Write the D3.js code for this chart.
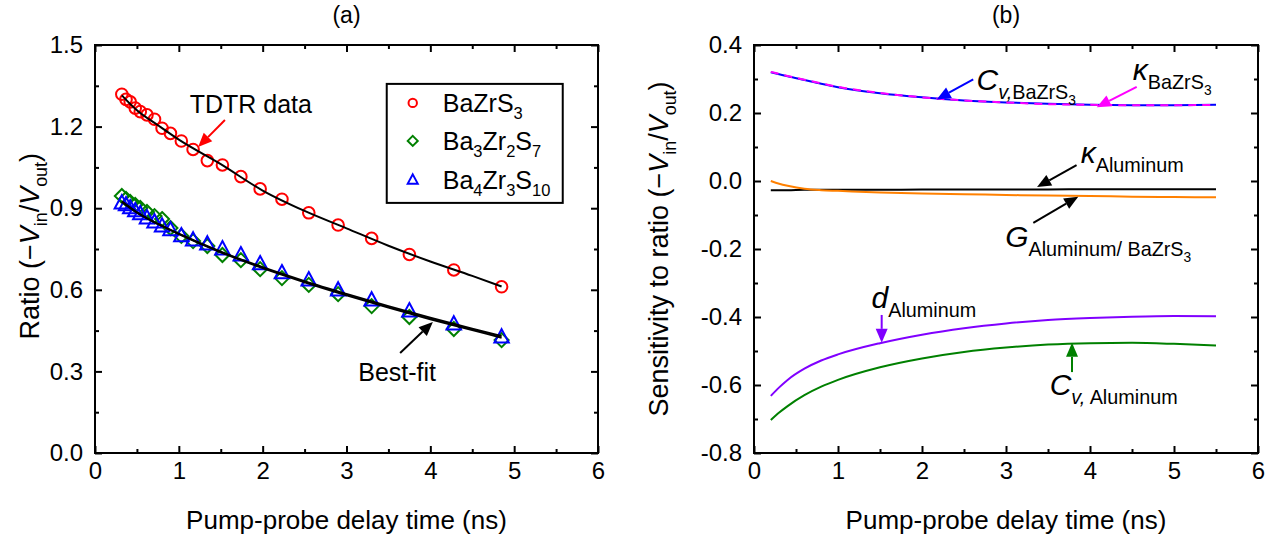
<!DOCTYPE html>
<html>
<head>
<meta charset="utf-8">
<script src="https://cdn.jsdelivr.net/npm/d3@7"></script>
<style>
  body { margin: 0; background: #fff; }
  svg text { font-family: "Liberation Sans", Arial, Helvetica, sans-serif; }
</style>
</head>
<body>
<svg id="chart" width="1283" height="540"></svg>
<script>
// ---------- (a) TDTR ratio data ----------
const delayTimes = [0.32, 0.37, 0.42, 0.48, 0.54, 0.62, 0.71, 0.80, 0.90, 1.03, 1.17,
                    1.34, 1.52, 1.74, 1.97, 2.23, 2.55, 2.90, 3.30, 3.75, 4.28, 4.85];
const ratioBaZrS3 = [1.319, 1.300, 1.291, 1.268, 1.255, 1.243, 1.227, 1.194, 1.175, 1.147, 1.116,
                     1.075, 1.059, 1.016, 0.971, 0.933, 0.883, 0.838, 0.789, 0.730, 0.673, 0.611];
const ratioBa3Zr2S7 = [0.945, 0.934, 0.923, 0.912, 0.901, 0.886, 0.871, 0.860, 0.827, 0.798, 0.779,
                       0.761, 0.728, 0.709, 0.676, 0.643, 0.618, 0.584, 0.540, 0.500, 0.456, 0.415];
const ratioBa4Zr3S10 = [0.919, 0.912, 0.901, 0.890, 0.879, 0.864, 0.849, 0.834, 0.820, 0.798, 0.783,
                        0.768, 0.750, 0.728, 0.695, 0.662, 0.636, 0.599, 0.562, 0.522, 0.474, 0.426];

// best-fit model curves
const fitTimes = [0.32, 0.5, 0.75, 1.0, 1.5, 2.0, 2.5, 3.0, 3.5, 4.0, 4.5, 4.85];
const fitBaZrS3 = [1.315, 1.260, 1.205, 1.152, 1.062, 0.965, 0.890, 0.826, 0.762, 0.704, 0.651, 0.612];
const fitBa3Zr2S7 = [0.925, 0.885, 0.842, 0.805, 0.738, 0.680, 0.628, 0.580, 0.535, 0.492, 0.452, 0.424];
const fitBa4Zr3S10 = [0.923, 0.884, 0.842, 0.806, 0.740, 0.683, 0.632, 0.585, 0.540, 0.497, 0.457, 0.430];

// ---------- (b) sensitivity curves ----------
const sensTimes = [0.2, 0.3, 0.4, 0.6, 0.8, 1.0, 1.5, 2.0, 2.5, 3.0, 3.5, 4.0, 4.5, 5.0, 5.5];
const sensCvBaZrS3 = [0.320, 0.314, 0.308, 0.297, 0.286, 0.276, 0.258, 0.246, 0.237, 0.231, 0.227, 0.224, 0.223, 0.223, 0.224];
const sensKappaBaZrS3 = [0.321, 0.315, 0.309, 0.298, 0.287, 0.277, 0.259, 0.246, 0.237, 0.231, 0.226, 0.224, 0.223, 0.223, 0.224];
const sensKappaAl = [-0.027, -0.027, -0.027, -0.026, -0.026, -0.026, -0.026, -0.025, -0.025, -0.025, -0.025, -0.024, -0.024, -0.024, -0.024];
const sensGAlBaZrS3 = [0.000, -0.008, -0.014, -0.023, -0.027, -0.029, -0.034, -0.037, -0.039, -0.041, -0.043, -0.044, -0.046, -0.047, -0.048];
const sensDAl = [-0.632, -0.607, -0.585, -0.552, -0.528, -0.510, -0.477, -0.452, -0.433, -0.419, -0.409, -0.403, -0.399, -0.397, -0.398];
const sensCvAl = [-0.703, -0.681, -0.662, -0.630, -0.605, -0.585, -0.548, -0.522, -0.503, -0.490, -0.481, -0.477, -0.476, -0.479, -0.484];

// ---------- ticks ----------
const xTicks = [0, 1, 2, 3, 4, 5, 6];
const xMinorTicks = [0.5, 1.5, 2.5, 3.5, 4.5, 5.5];
const ratioTicks = [0, 0.3, 0.6, 0.9, 1.2, 1.5];
const ratioMinorTicks = [0.15, 0.45, 0.75, 1.05, 1.35];
const sensTicks = [-0.8, -0.6, -0.4, -0.2, 0, 0.2, 0.4];
const sensMinorTicks = [-0.7, -0.5, -0.3, -0.1, 0.1, 0.3];

const svg = d3.select("#chart");
const TICK_FS = 24, TITLE_FS = 26, YTITLE_FS = 27, NOTE_FS = 25;

const xa = d3.scaleLinear().domain([0, 6]).range([95, 598]);
const ya = d3.scaleLinear().domain([0, 1.5]).range([453, 45]);
const xb = d3.scaleLinear().domain([0, 6]).range([754, 1258]);
const yb = d3.scaleLinear().domain([-0.8, 0.4]).range([453, 45]);

// one decimal, plain hyphen for negatives
const fmt1 = v => d3.format(".1f")(v).replace("\u2212", "-");

// Rich text with sub/sub-sub scripts built from tspans
function rich(parent, x, y, parts, size, opts = {}) {
  const t = parent.append("text")
    .attr("x", x).attr("y", y)
    .attr("font-size", size)
    .attr("text-anchor", opts.anchor || "start")
    .attr("fill", opts.fill || "#000");
  if (opts.rotate) t.attr("transform", `rotate(${opts.rotate},${x},${y})`);
  let off = 0;
  parts.forEach(p => {
    const level = p.lvl || 0;
    const shift = level === 0 ? 0 : (level === 1 ? 0.3 * size : 0.5 * size);
    const fs = level === 0 ? size : (level === 1 ? size * 0.66 : size * 0.46);
    const ts = t.append("tspan").text(p.t).attr("font-size", fs).attr("dy", shift - off);
    if (p.it) ts.attr("font-style", "italic");
    off = shift;
  });
  return t;
}

function arrow(parent, x1, y1, x2, y2, color) {
  const ang = Math.atan2(y2 - y1, x2 - x1);
  const L = 14, W = 6;
  const bx = x2 - L * Math.cos(ang), by = y2 - L * Math.sin(ang);
  parent.append("line")
    .attr("x1", x1).attr("y1", y1).attr("x2", bx).attr("y2", by)
    .attr("stroke", color).attr("stroke-width", 2);
  const px = -Math.sin(ang) * W, py = Math.cos(ang) * W;
  parent.append("path")
    .attr("d", `M${x2},${y2}L${bx + px},${by + py}L${bx - px},${by - py}Z`)
    .attr("fill", color);
}

function frameAndAxes(g, x, y, yTicks, yMinor) {
  const [x0, x1] = x.range(), [y0, y1] = y.range();
  const major = 7, minor = 4;
  g.append("g").attr("transform", `translate(0,${y0})`)
    .call(d3.axisBottom(x).tickValues(xTicks).tickSizeInner(-major).tickSizeOuter(0).tickPadding(9).tickFormat(d3.format("d")));
  g.append("g").attr("transform", `translate(0,${y0})`)
    .call(d3.axisBottom(x).tickValues(xMinorTicks).tickSizeInner(-minor).tickSizeOuter(0).tickFormat(""));
  g.append("g").attr("transform", `translate(0,${y1})`)
    .call(d3.axisTop(x).tickValues(xTicks).tickSizeInner(-major).tickSizeOuter(0).tickFormat(""));
  g.append("g").attr("transform", `translate(0,${y1})`)
    .call(d3.axisTop(x).tickValues(xMinorTicks).tickSizeInner(-minor).tickSizeOuter(0).tickFormat(""));
  g.append("g").attr("transform", `translate(${x0},0)`)
    .call(d3.axisLeft(y).tickValues(yTicks).tickSizeInner(-major).tickSizeOuter(0).tickPadding(12).tickFormat(fmt1));
  g.append("g").attr("transform", `translate(${x0},0)`)
    .call(d3.axisLeft(y).tickValues(yMinor).tickSizeInner(-minor).tickSizeOuter(0).tickFormat(""));
  g.append("g").attr("transform", `translate(${x1},0)`)
    .call(d3.axisRight(y).tickValues(yTicks).tickSizeInner(-major).tickSizeOuter(0).tickFormat(""));
  g.append("g").attr("transform", `translate(${x1},0)`)
    .call(d3.axisRight(y).tickValues(yMinor).tickSizeInner(-minor).tickSizeOuter(0).tickFormat(""));
  g.selectAll(".domain").remove();
  g.selectAll(".tick line").attr("stroke", "#000").attr("stroke-width", 2);
  g.selectAll(".tick text").attr("font-size", TICK_FS).attr("fill", "#000")
    .style("font-family", '"Liberation Sans", Arial, sans-serif');
  g.append("rect")
    .attr("x", x0).attr("y", y1).attr("width", x1 - x0).attr("height", y0 - y1)
    .attr("fill", "none").attr("stroke", "#000").attr("stroke-width", 2);
}

// ================= Panel (a) =================
const ga = svg.append("g");
const lineA = d3.line().curve(d3.curveMonotoneX).x(d => xa(d[0])).y(d => ya(d[1]));

const symDiamond = (s) => `M0,${-s}L${s},0L0,${s}L${-s},0Z`;
const symTriangle = (s) => `M0,${-s * 1.1}L${s},${s * 0.75}L${-s},${s * 0.75}Z`;

ga.append("g").selectAll("path").data(d3.zip(delayTimes, ratioBa3Zr2S7)).join("path")
  .attr("transform", d => `translate(${xa(d[0])},${ya(d[1])})`)
  .attr("d", symDiamond(7)).attr("fill", "none").attr("stroke", "#008000").attr("stroke-width", 2);
ga.append("g").selectAll("path").data(d3.zip(delayTimes, ratioBa4Zr3S10)).join("path")
  .attr("transform", d => `translate(${xa(d[0])},${ya(d[1])})`)
  .attr("d", symTriangle(7.2)).attr("fill", "none").attr("stroke", "#0000ff").attr("stroke-width", 2);
ga.append("g").selectAll("circle").data(d3.zip(delayTimes, ratioBaZrS3)).join("circle")
  .attr("cx", d => xa(d[0])).attr("cy", d => ya(d[1])).attr("r", 5.8)
  .attr("fill", "none").attr("stroke", "#ff0000").attr("stroke-width", 2);

[fitBaZrS3, fitBa3Zr2S7, fitBa4Zr3S10].forEach(f => {
  ga.append("path").datum(d3.zip(fitTimes, f)).attr("d", lineA)
    .attr("fill", "none").attr("stroke", "#000").attr("stroke-width", 2);
});

frameAndAxes(ga, xa, ya, ratioTicks, ratioMinorTicks);

// annotations
ga.append("text").attr("x", xa(1.13)).attr("y", ya(1.25)).attr("font-size", NOTE_FS).text("TDTR data");
arrow(ga, xa(1.55), ya(1.224), xa(1.23), ya(1.125), "#ff0000");
ga.append("text").attr("x", xa(3.14)).attr("y", ya(0.265)).attr("font-size", NOTE_FS).text("Best-fit");
arrow(ga, xa(3.64), ya(0.368), xa(4.03), ya(0.482), "#000");

// legend
const lg = ga.append("g").attr("transform", `translate(${xa(3.48)},${ya(1.357)})`);
lg.append("rect").attr("width", 176).attr("height", 119).attr("fill", "#fff")
  .attr("stroke", "#000").attr("stroke-width", 2);
lg.append("circle").attr("cx", 26).attr("cy", 19).attr("r", 4.2)
  .attr("fill", "none").attr("stroke", "#ff0000").attr("stroke-width", 2);
lg.append("path").attr("transform", "translate(26,57)").attr("d", symDiamond(5))
  .attr("fill", "none").attr("stroke", "#008000").attr("stroke-width", 2);
lg.append("path").attr("transform", "translate(26,96)").attr("d", symTriangle(5))
  .attr("fill", "none").attr("stroke", "#0000ff").attr("stroke-width", 2);
rich(lg, 56, 28, [{ t: "BaZrS" }, { t: "3", lvl: 1 }], NOTE_FS);
rich(lg, 56, 66, [{ t: "Ba" }, { t: "3", lvl: 1 }, { t: "Zr" }, { t: "2", lvl: 1 }, { t: "S" }, { t: "7", lvl: 1 }], NOTE_FS);
rich(lg, 56, 105, [{ t: "Ba" }, { t: "4", lvl: 1 }, { t: "Zr" }, { t: "3", lvl: 1 }, { t: "S" }, { t: "10", lvl: 1 }], NOTE_FS);

// titles
ga.append("text").attr("x", xa(3)).attr("y", 23).attr("text-anchor", "middle").attr("font-size", 23).text("(a)");
ga.append("text").attr("x", xa(3)).attr("y", 529).attr("text-anchor", "middle").attr("font-size", TITLE_FS)
  .text("Pump-probe delay time (ns)");
rich(ga, 39, ya(0.76), [{ t: "Ratio (\u2212" }, { t: "V", it: true }, { t: "in", lvl: 1 }, { t: "/" }, { t: "V", it: true }, { t: "out", lvl: 1 }, { t: ")" }],
  YTITLE_FS, { anchor: "middle", rotate: -90 });

// ================= Panel (b) =================
const gb = svg.append("g");
const lineB = d3.line().curve(d3.curveMonotoneX).x(d => xb(d[0])).y(d => yb(d[1]));
const drawSens = (vals, color, dash) => {
  const p = gb.append("path").datum(d3.zip(sensTimes, vals)).attr("d", lineB)
    .attr("fill", "none").attr("stroke", color).attr("stroke-width", 2);
  if (dash) p.attr("stroke-dasharray", dash);
};
drawSens(sensKappaAl, "#000");
drawSens(sensGAlBaZrS3, "#ff8000");
drawSens(sensDAl, "#8000ff");
drawSens(sensCvAl, "#008000");
drawSens(sensCvBaZrS3, "#0000ff");
drawSens(sensKappaBaZrS3, "#ff00ff", "8,6");

frameAndAxes(gb, xb, yb, sensTicks, sensMinorTicks);

const BIG = 30;
// C_v,BaZrS3
rich(gb, xb(2.65), yb(0.268), [{ t: "C", it: true }, { t: "v,", lvl: 1, it: true }, { t: "BaZrS", lvl: 1 }, { t: "3", lvl: 2 }], BIG);
arrow(gb, xb(2.61), yb(0.299), xb(2.175), yb(0.240), "#0000ff");
// kappa BaZrS3
rich(gb, xb(4.51), yb(0.297), [{ t: "\u03ba", it: true }, { t: "BaZrS", lvl: 1 }, { t: "3", lvl: 2 }], BIG);
arrow(gb, xb(4.556), yb(0.277), xb(4.08), yb(0.217), "#ff00ff");
// kappa Aluminum
rich(gb, xb(3.89), yb(0.053), [{ t: "\u03ba", it: true }, { t: "Aluminum", lvl: 1 }], BIG);
arrow(gb, xb(3.84), yb(0.047), xb(3.37), yb(-0.018), "#000");
// G Aluminum/BaZrS3
rich(gb, xb(2.99), yb(-0.194), [{ t: "G", it: true }, { t: "Aluminum/ BaZrS", lvl: 1 }, { t: "3", lvl: 2 }], BIG);
arrow(gb, xb(3.325), yb(-0.123), xb(3.86), yb(-0.046), "#000");
// d Aluminum
rich(gb, xb(1.40), yb(-0.374), [{ t: "d", it: true }, { t: "Aluminum", lvl: 1 }], BIG);
arrow(gb, xb(1.52), yb(-0.394), xb(1.52), yb(-0.476), "#8000ff");
// C_v, Aluminum
rich(gb, xb(3.52), yb(-0.629), [{ t: "C", it: true }, { t: "v,", lvl: 1, it: true }, { t: " Aluminum", lvl: 1 }], BIG);
arrow(gb, xb(3.786), yb(-0.562), xb(3.786), yb(-0.476), "#008000");

gb.append("text").attr("x", xb(3)).attr("y", 23).attr("text-anchor", "middle").attr("font-size", 23).text("(b)");
gb.append("text").attr("x", xb(3)).attr("y", 529).attr("text-anchor", "middle").attr("font-size", TITLE_FS)
  .text("Pump-probe delay time (ns)");
rich(gb, 668, yb(-0.2), [{ t: "Sensitivity to ratio (\u2212" }, { t: "V", it: true }, { t: "in", lvl: 1 }, { t: "/" }, { t: "V", it: true }, { t: "out", lvl: 1 }, { t: ")" }],
  YTITLE_FS, { anchor: "middle", rotate: -90 });
</script>
</body>
</html>
